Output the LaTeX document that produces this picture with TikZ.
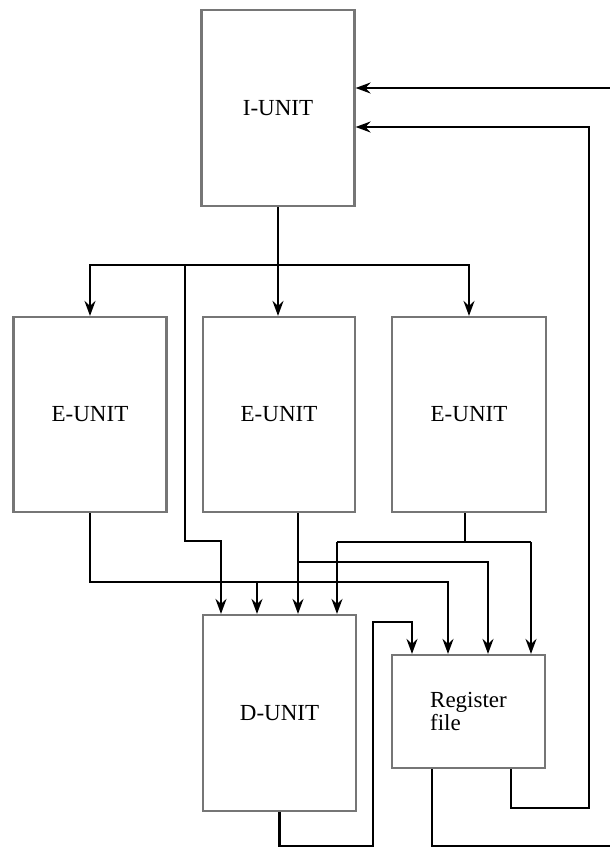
\documentclass[tikz,border=0pt]{standalone}
\usepackage{fontspec}
\setmainfont{Liberation Serif}
\usetikzlibrary{arrows.meta,calc}
\begin{document}
\begin{tikzpicture}[x=1pt,y=-1pt,
  unit/.style={draw=boxgray,line width=2.2pt,fill=white,inner sep=0pt,
    font=\fontsize{23}{23}\selectfont},
  wire/.style={line width=2.1pt,black},
  arr/.style={wire,-{Stealth[length=15pt,width=11pt,inset=5pt]}}]
\definecolor{boxgray}{RGB}{118,118,118}
\useasboundingbox (0,0) rectangle (610,847);
% boxes
\node[unit,minimum width=153pt,minimum height=196pt] (iu) at (278,108) {I-UNIT};
\node[unit,minimum width=153pt,minimum height=195pt] (e1) at (90,414.5) {E-UNIT};
\node[unit,minimum width=152pt,minimum height=195pt] (e2) at (279,414.5) {E-UNIT};
\node[unit,minimum width=154pt,minimum height=195pt] (e3) at (469,414.5) {E-UNIT};
\node[unit,minimum width=153pt,minimum height=196pt] (d) at (279.5,713) {D-UNIT};
\node[unit,minimum width=153pt,minimum height=113pt,align=left] (r) at (468.5,711.5) {Register\\file};
% helper coordinates
\coordinate (in1) at (610,88);
\coordinate (bus) at (0,265);
\coordinate (v1) at (185,265);
\coordinate (v2) at (221,541);
\coordinate (h1) at (448,582);
\coordinate (j1) at (257,582);
\coordinate (e2o) at (298,0);
\coordinate (h2) at (488,562);
\coordinate (h3) at (465,542);
\coordinate (a3l) at (337,542);
\coordinate (a3r) at (531,542);
\coordinate (dq) at (373,846);
\coordinate (dr) at (412,622);
\coordinate (ro) at (432,846);
\coordinate (rend) at (610,846);
\coordinate (r2) at (511,808);
\coordinate (r3) at (589,127);
% inputs to I-UNIT
\draw[arr] (in1) -- (in1 -| iu.east);
\draw[arr] (r2 |- r.south) -- (r2) -| (r3) -- (r3 -| iu.east);
% I-UNIT to E-UNITs
\draw[arr] (iu.south) -- (iu.south |- e2.north);
\draw[arr] (iu.south |- bus) -| (e1.north);
\draw[arr] (iu.south |- bus) -| (e3.north);
\draw[arr] (v1) |- (v2) -- (v2 |- d.north);
% E1 output
\draw[arr] (e1.south) |- (h1) -- (h1 |- r.north);
\draw[arr] (j1) -- (j1 |- d.north);
% E2 output
\draw[arr] (e2o |- e2.south) -- (e2o |- d.north);
\draw[arr] (e2o |- h2) -- (h2) -- (h2 |- r.north);
% E3 output
\draw[wire] (h3 |- e3.south) -- (h3);
\draw[wire] (a3l) -- (a3r);
\draw[arr] (a3l) -- (a3l |- d.north);
\draw[arr] (a3r) -- (a3r |- r.north);
% D-UNIT output
\draw[arr] (d.south) |- (dq) |- (dr) -- (dr |- r.north);
% Register file output
\draw[wire] (ro |- r.south) -- (ro) -- (rend);
\end{tikzpicture}
\end{document}
